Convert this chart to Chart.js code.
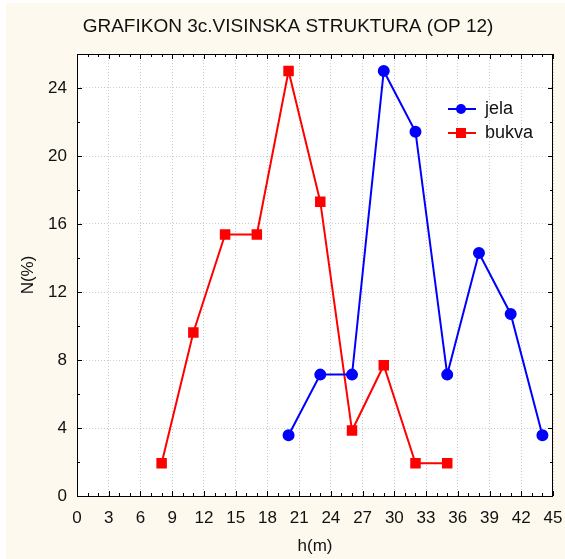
<!DOCTYPE html>
<html>
<head>
<meta charset="utf-8">
<script src="https://cdn.jsdelivr.net/npm/chart.js@4/dist/chart.umd.min.js"></script>
<style>
  html, body { margin: 0; padding: 0; background: #ffffff; }
  #wrap { position: relative; width: 565px; height: 559px; }
</style>
</head>
<body>
<div id="wrap"><canvas id="chart" width="565" height="559"></canvas></div>
<script>
// ---- data ----
const chartTitle = "GRAFIKON 3c.VISINSKA STRUKTURA (OP 12)";
const jelaX = [20, 23, 26, 29, 32, 35, 38, 41, 44];
const jelaY = [3.57, 7.14, 7.14, 25.0, 21.43, 7.14, 14.29, 10.71, 3.57];
const bukvaX = [8, 11, 14, 17, 20, 23, 26, 29, 32, 35];
const bukvaY = [1.92, 9.62, 15.38, 15.38, 25.0, 17.31, 3.85, 7.69, 1.92, 1.92];
const xTicks = [0, 3, 6, 9, 12, 15, 18, 21, 24, 27, 30, 33, 36, 39, 42, 45];
const yTicks = [0, 4, 8, 12, 16, 20, 24];

const FONT = "'Liberation Sans', Arial, sans-serif";
const CREAM = "#fdf9ee";

const toPoints = (xs, ys) => xs.map((x, i) => ({ x, y: ys[i] }));

// background, plot frame, inward ticks, title, legend
const framePlugin = {
  id: "frame",
  beforeDraw(chart) {
    const { ctx, chartArea: a } = chart;
    ctx.save();
    ctx.fillStyle = CREAM;
    ctx.fillRect(6, 3, chart.width - 6, chart.height - 3);
    ctx.fillStyle = "#ffffff";
    ctx.fillRect(a.left, a.top, a.right - a.left, a.bottom - a.top);
    ctx.restore();
  },
  afterDatasetsDraw(chart) {
    const { ctx, chartArea: a, scales } = chart;
    const xs = scales.x, ys = scales.y;
    ctx.save();
    ctx.strokeStyle = "#000";
    ctx.lineWidth = 1;
    ctx.strokeRect(a.left + 0.5, a.top + 0.5, a.right - a.left - 1, a.bottom - a.top);

    ctx.beginPath();
    for (let v = 0; v <= 45; v++) {
      const px = Math.round(xs.getPixelForValue(v)) + 0.5;
      const len = v % 3 === 0 ? 5 : 3;
      ctx.moveTo(px, a.bottom); ctx.lineTo(px, a.bottom - len);
      ctx.moveTo(px, a.top); ctx.lineTo(px, a.top + len);
    }
    for (let v = 0; v <= 26; v += 2) {
      const py = Math.round(ys.getPixelForValue(v)) + 0.5;
      const len = v % 4 === 0 ? 5 : 3;
      ctx.moveTo(a.left, py); ctx.lineTo(a.left + len, py);
      ctx.moveTo(a.right, py); ctx.lineTo(a.right - len, py);
    }
    ctx.stroke();

    // title
    ctx.fillStyle = "#111";
    ctx.font = "19px " + FONT;
    ctx.textAlign = "center";
    ctx.textBaseline = "middle";
    ctx.fillText(chartTitle, 288, 27);

    // legend
    const items = chart.data.datasets;
    items.forEach((ds, i) => {
      const y = 109 + i * 24;
      ctx.strokeStyle = ds.borderColor;
      ctx.lineWidth = 2;
      ctx.beginPath(); ctx.moveTo(448, y); ctx.lineTo(476, y); ctx.stroke();
      ctx.fillStyle = ds.backgroundColor;
      if (ds.pointStyle === "rect") {
        ctx.fillRect(456, y - 5, 10, 10);
      } else {
        ctx.beginPath(); ctx.arc(461, y, 5, 0, Math.PI * 2); ctx.fill();
      }
      ctx.fillStyle = "#111";
      ctx.font = "18px " + FONT;
      ctx.textAlign = "left";
      ctx.fillText(ds.label, 485, y);
    });
    ctx.restore();
  }
};

new Chart(document.getElementById("chart"), {
  type: "scatter",
  data: {
    datasets: [
      {
        label: "jela",
        data: toPoints(jelaX, jelaY),
        showLine: true,
        borderColor: "#0000ff",
        backgroundColor: "#0000ff",
        borderWidth: 2,
        pointStyle: "circle",
        pointRadius: 5,
        pointHoverRadius: 5
      },
      {
        label: "bukva",
        data: toPoints(bukvaX, bukvaY),
        showLine: true,
        borderColor: "#ff0000",
        backgroundColor: "#ff0000",
        borderWidth: 2,
        pointStyle: "rect",
        pointRadius: 6,
        pointHoverRadius: 6
      }
    ]
  },
  options: {
    responsive: false,
    animation: false,
    layout: { padding: { top: 54, right: 12, left: 0, bottom: 0 } },
    plugins: { legend: { display: false }, title: { display: false }, tooltip: { enabled: false } },
    scales: {
      x: {
        type: "linear",
        min: 0,
        max: 45,
        afterBuildTicks(s) { s.ticks = xTicks.map(v => ({ value: v })); },
        afterFit(s) { s.height = 63; s.paddingLeft = 0; s.paddingRight = 0; },
        ticks: { color: "#111", font: { family: FONT, size: 17 }, padding: 12, maxRotation: 0, autoSkip: false },
        grid: { color: "#cccccc", lineWidth: 1, drawTicks: false },
        border: { display: false, dash: [1, 2] },
        title: { display: true, text: "h(m)", color: "#111", font: { family: FONT, size: 17 }, padding: { top: 0, bottom: 2 } }
      },
      y: {
        type: "linear",
        min: 0,
        max: 26,
        afterBuildTicks(s) { s.ticks = yTicks.map(v => ({ value: v })); },
        afterFit(s) { s.width = 77; s.paddingTop = 0; s.paddingBottom = 0; },
        ticks: { color: "#111", font: { family: FONT, size: 17 }, padding: 10 },
        grid: { color: "#cccccc", lineWidth: 1, drawTicks: false },
        border: { display: false, dash: [1, 2] },
        title: { display: true, text: "N(%)", color: "#111", font: { family: FONT, size: 17 }, padding: { top: 18, bottom: 0 } }
      }
    }
  },
  plugins: [framePlugin]
});
</script>
</body>
</html>
